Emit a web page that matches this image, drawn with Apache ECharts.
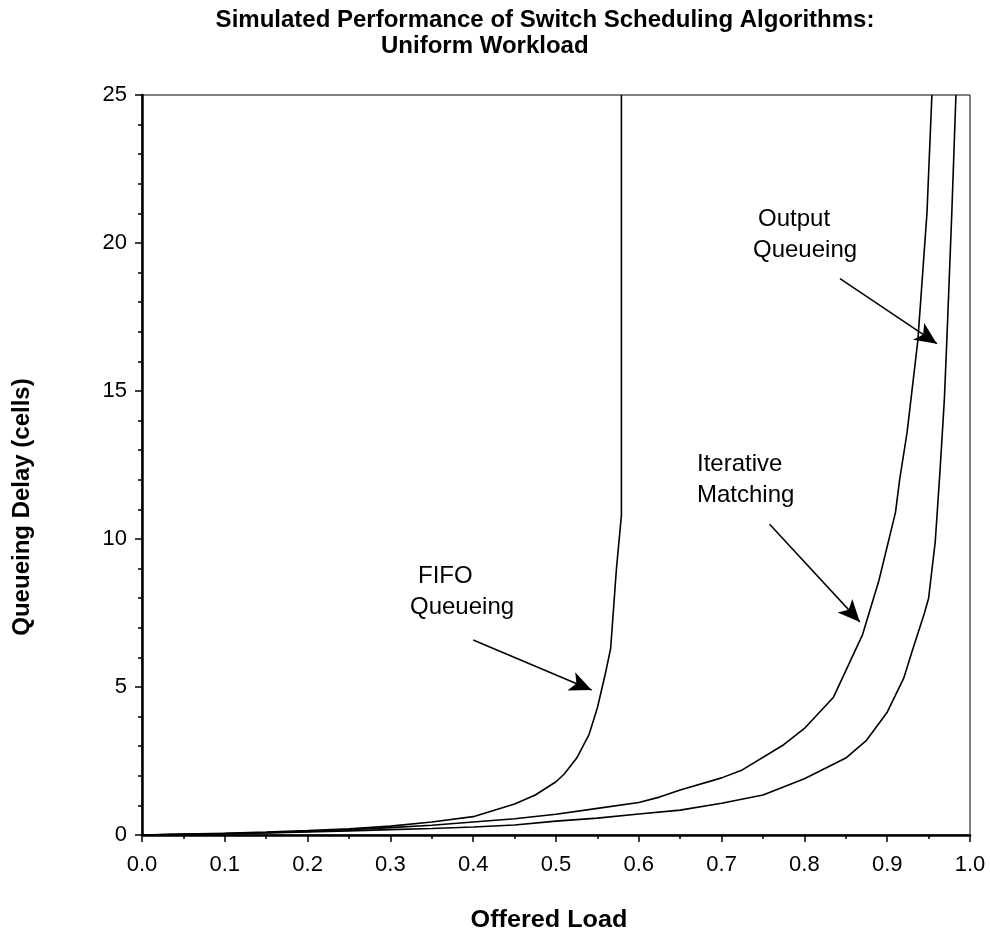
<!DOCTYPE html>
<html>
<head>
<meta charset="utf-8">
<script src="https://cdn.jsdelivr.net/npm/echarts@6/dist/echarts.min.js"></script>
<style>html,body{margin:0;padding:0;background:#fff}#c{width:990px;height:936px}</style>
</head>
<body>
<div id="c"></div>
<script>
// Offered load / queueing delay samples
const fifoLoad   = [0, 0.05, 0.1, 0.15, 0.2, 0.25, 0.3, 0.35, 0.4, 0.45, 0.475, 0.5, 0.51, 0.525, 0.54, 0.55, 0.56, 0.566, 0.573, 0.578, 0.579, 0.579];
const fifoDelay  = [0, 0.03, 0.06, 0.1, 0.15, 0.21, 0.3, 0.44, 0.62, 1.05, 1.35, 1.8, 2.06, 2.6, 3.4, 4.3, 5.5, 6.3, 9.0, 10.5, 10.8, 25];

const iterLoad   = [0, 0.05, 0.1, 0.15, 0.2, 0.25, 0.3, 0.35, 0.4, 0.45, 0.5, 0.55, 0.6, 0.625, 0.65, 0.7, 0.725, 0.775, 0.8, 0.825, 0.835, 0.87, 0.89, 0.91, 0.915, 0.924, 0.937, 0.948, 0.954];
const iterDelay  = [0, 0.02, 0.05, 0.08, 0.12, 0.18, 0.25, 0.33, 0.44, 0.55, 0.7, 0.9, 1.1, 1.28, 1.52, 1.93, 2.2, 3.05, 3.6, 4.35, 4.65, 6.75, 8.6, 10.9, 12.0, 13.6, 16.7, 21, 25];

const outLoad    = [0, 0.05, 0.1, 0.15, 0.2, 0.25, 0.3, 0.35, 0.4, 0.45, 0.5, 0.55, 0.6, 0.65, 0.7, 0.75, 0.8, 0.85, 0.875, 0.9, 0.92, 0.93, 0.945, 0.95, 0.958, 0.964, 0.969, 0.972, 0.978, 0.983];
const outDelay   = [0, 0.02, 0.04, 0.07, 0.1, 0.14, 0.18, 0.22, 0.27, 0.34, 0.47, 0.57, 0.71, 0.84, 1.07, 1.35, 1.9, 2.6, 3.2, 4.15, 5.3, 6.2, 7.5, 8.0, 9.9, 12.4, 14.7, 16.7, 21, 25];

const xTicks = ['0.0','0.1','0.2','0.3','0.4','0.5','0.6','0.7','0.8','0.9','1.0'];
const yTicks = ['0','5','10','15','20','25'];

// annotation arrows: [fromLoad, fromDelay, toLoad, toDelay]
const arrowFifo = [0.400, 6.59, 0.543, 4.90];
const arrowIter = [0.758, 10.5, 0.867, 7.2];
const arrowOut  = [0.843, 18.8, 0.960, 16.6];

const zip = (a, b) => a.map((v, i) => [v, b[i]]);
const FONT = '"Liberation Sans", Arial, sans-serif';

const chart = echarts.init(document.getElementById('c'), null, {renderer: 'canvas'});

function arrowLine(a) {
  return {
    silent: true,
    symbol: ['none', 'arrow'],
    symbolSize: [15, 22],
    label: {show: false},
    lineStyle: {color: '#000', width: 1.5, type: 'solid'},
    data: [[{coord: [a[0], a[1]]}, {coord: [a[2], a[3]]}]],
    animation: false
  };
}

const lineBase = {
  type: 'line', showSymbol: false, symbol: 'none', smooth: false,
  lineStyle: {color: '#000', width: 1.6}, clip: true, animation: false
};

function txt(text, x, y, size, bold, sx, align) {
  return {type: 'text', x: x, y: y, scaleX: sx, silent: true,
    style: {text: text, x: 0, y: 0, textAlign: align || 'left', textVerticalAlign: 'top',
      font: (bold ? 'bold ' : '') + size + 'px ' + FONT, fill: '#000'}};
}

chart.setOption({
  backgroundColor: '#fff',
  animation: false,
  grid: {left: 142, right: 20, top: 95, bottom: 101, show: true, borderColor: '#000', borderWidth: 1, backgroundColor: 'transparent'},
  xAxis: {
    type: 'value', min: 0, max: 1, interval: 0.1,
    axisLine: {show: true, onZero: false, lineStyle: {color: '#000', width: 2.5}},
    axisTick: {show: true, inside: false, length: 7, lineStyle: {color: '#000', width: 1.5}},
    minorTick: {show: true, splitNumber: 2, length: 4, lineStyle: {color: '#000', width: 1.5}},
    splitLine: {show: false},
    axisLabel: {color: '#000', fontFamily: FONT, fontSize: 22, margin: 19,
      formatter: v => xTicks[Math.round(v * 10)]}
  },
  yAxis: {
    type: 'value', min: 0, max: 25, interval: 5,
    axisLine: {show: true, onZero: false, lineStyle: {color: '#000', width: 2.5}},
    axisTick: {show: true, inside: false, length: 7, lineStyle: {color: '#000', width: 1.5}},
    minorTick: {show: true, splitNumber: 5, length: 4, lineStyle: {color: '#000', width: 1.5}},
    splitLine: {show: false},
    axisLabel: {color: '#000', fontFamily: FONT, fontSize: 22, margin: 15,
      formatter: v => yTicks[Math.round(v / 5)]}
  },
  series: [
    Object.assign({}, lineBase, {name: 'FIFO Queueing', data: zip(fifoLoad, fifoDelay), markLine: arrowLine(arrowFifo)}),
    Object.assign({}, lineBase, {name: 'Iterative Matching', data: zip(iterLoad, iterDelay), markLine: arrowLine(arrowIter)}),
    Object.assign({}, lineBase, {name: 'Output Queueing', data: zip(outLoad, outDelay), markLine: arrowLine(arrowOut)})
  ],
  graphic: [
    txt('Simulated Performance of Switch Scheduling Algorithms:', 545, 8, 24, true, 1, 'center'),
    txt('Uniform Workload', 381, 34, 24, true, 1, 'left'),
    txt('FIFO', 418, 564, 24, false, 1),
    txt('Queueing', 410, 595, 24, false, 1),
    txt('Iterative', 697, 452, 24, false, 1),
    txt('Matching', 697, 483, 24, false, 1),
    txt('Output', 758, 207, 24, false, 1),
    txt('Queueing', 753, 238, 24, false, 1),
    txt('Offered Load', 549, 908, 24, true, 1.05, 'center'),
    {type: 'text', x: 10, y: 507, rotation: Math.PI / 2, silent: true,
      style: {text: 'Queueing Delay (cells)', x: 0, y: 0, textAlign: 'center', textVerticalAlign: 'top',
        font: 'bold 24px ' + FONT, fill: '#000'}}
  ]
});
</script>
</body>
</html>
